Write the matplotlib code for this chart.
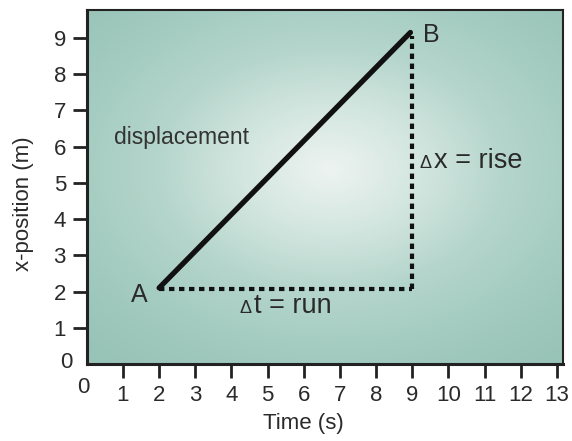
import numpy as np
import matplotlib
matplotlib.use('Agg')
import matplotlib.pyplot as plt
from matplotlib.colors import LinearSegmentedColormap

plt.rcParams['font.family'] = ['Liberation Sans', 'DejaVu Sans']

# data
line_t = [2, 8.95]
line_x = [2.1, 9.15]
run_t = [2, 9]
run_x = [2.07, 2.07]
rise_t = [9, 9]
rise_x = [2.07, 9.05]
xticks = list(range(1, 14))
yticks = list(range(1, 10))

W, H = 572, 441
fig = plt.figure(figsize=(W/100, H/100), dpi=100)
ax = fig.add_axes([86.8/W, (H-364)/H, (563-86.8)/W, (364-10)/H])
X0, X1, Y0, Y1 = 0, 13.17, 0, 9.77
ax.set_xlim(X0, X1); ax.set_ylim(Y0, Y1)

# radial gradient background, light in the middle
gx, gy = np.meshgrid(np.linspace(-1, 1, 300), np.linspace(-1, 1, 240))
r = np.sqrt(((gx - 0.02) / 1.05) ** 2 + ((gy - 0.1) / 1.0) ** 2)
cmap = LinearSegmentedColormap.from_list('bg', ['#edf3f1', '#d3e6e0', '#b4d5cb', '#a3cbbf', '#98c3b7'])
ax.imshow(np.clip(r / 1.4, 0, 1), cmap=cmap, extent=[X0, X1, Y0, Y1], aspect='auto',
          origin='lower', zorder=0, interpolation='bilinear')

ax.plot(line_t, line_x, color='#111111', lw=3.8, solid_capstyle='round', zorder=3)
ax.plot(run_t, run_x, color='#111111', lw=3, ls=(0, (1.3, 1.1)), zorder=2)
ax.plot(rise_t, rise_x, color='#111111', lw=3, ls=(0, (1.3, 1.1)), zorder=2)

tc = '#2a2a2a'
ax.text(1.44, 1.9, 'A', fontsize=18, ha='center', va='center', color=tc)
ax.text(9.54, 9.08, 'B', fontsize=18, ha='center', va='center', color=tc)
ax.text(0.74, 6.26, 'displacement', fontsize=16.5, ha='left', va='center', color='#333333')
ax.text(9.38, 5.41, '\u0394', fontsize=13, ha='center', va='baseline', color=tc)
ax.text(9.6, 5.41, 'x = rise', fontsize=19.5, ha='left', va='baseline', color=tc)
ax.text(4.40, 1.41, '\u0394', fontsize=13, ha='center', va='baseline', color=tc)
ax.text(4.62, 1.41, 't = run', fontsize=19.5, ha='left', va='baseline', color=tc)

ax.set_xticks(xticks)
ax.set_yticks(yticks)
ax.tick_params(direction='out', length=10, width=2, color='#222222', labelsize=16,
               labelcolor=tc, pad=5)
for s in ax.spines.values():
    s.set_color('#222222'); s.set_linewidth(1.5)
ax.spines['left'].set_linewidth(2.2)
ax.spines['bottom'].set_linewidth(2.2)

# origin labels (no tick there)
ax.text(-0.58, 0.05, '0', fontsize=16, ha='center', va='center', color=tc, clip_on=False)
ax.text(-0.1, -0.65, '0', fontsize=16, ha='center', va='center', color=tc, clip_on=False)

fig.text(303/W, 1 - 424/H, 'Time (s)', fontsize=16, ha='center', va='center', color=tc)
fig.text(24/W, 1 - 204/H, 'x-position (m)', fontsize=16, ha='center', va='center',
         rotation=90, color=tc)

fig.savefig('out.png', dpi=100)
